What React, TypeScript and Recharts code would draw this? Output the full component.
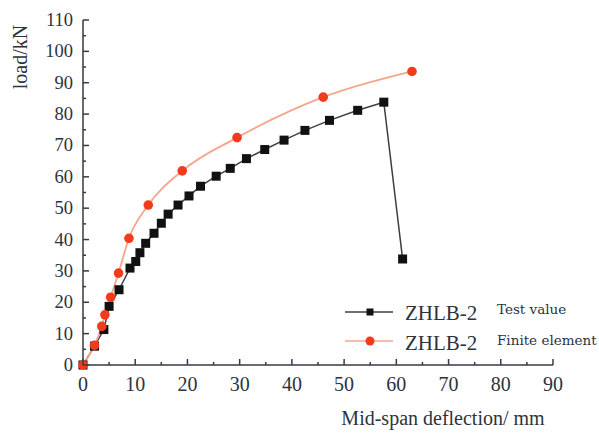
import { LineChart, Line, XAxis, YAxis, Legend, Label } from "recharts";

const testX = [0, 2.2, 4.0, 5.0, 6.9, 9.0, 10.1, 10.9, 12.0, 13.6, 15.0, 16.3, 18.2, 20.3, 22.5, 25.5, 28.2, 31.3, 34.8, 38.5, 42.5, 47.2, 52.6, 57.6, 61.2];
const testY = [0, 6, 11.3, 18.7, 24.0, 30.9, 33.0, 35.8, 38.8, 42.0, 45.2, 48.1, 51.0, 53.9, 57.0, 60.2, 62.7, 65.8, 68.7, 71.7, 74.8, 78.0, 81.2, 83.8, 33.8];
const feX = [0, 2.2, 3.6, 4.2, 5.3, 6.8, 8.8, 12.5, 19.0, 29.5, 46.0, 63.0];
const feY = [0, 6.3, 12.3, 16.0, 21.6, 29.3, 40.4, 51.0, 61.9, 72.5, 85.4, 93.6];
const xTicks = [0, 5, 10, 15, 20, 25, 30, 35, 40, 45, 50, 55, 60, 65, 70, 75, 80, 85, 90];
const yTicks = [0, 5, 10, 15, 20, 25, 30, 35, 40, 45, 50, 55, 60, 65, 70, 75, 80, 85, 90, 95, 100, 105, 110];

const testData = testX.map((x, i) => ({ x, y: testY[i] }));
const feData = feX.map((x, i) => ({ x, y: feY[i] }));

const AXIS = "#353b44";
const TEXT = "#2c333d";
const serif = "'Liberation Serif', serif";

const XTick = ({ x, y, payload }: any) => {
  const major = payload.value % 10 === 0;
  return (
    <g>
      <line x1={x} x2={x} y1={y} y2={y - (major ? 6 : 3)} stroke={AXIS} strokeWidth={1.5} />
      {major && (
        <text x={x} y={y + 26} textAnchor="middle" fontFamily={serif} fontSize={20} fill={TEXT}>
          {payload.value}
        </text>
      )}
    </g>
  );
};

const YTick = ({ x, y, payload }: any) => {
  const major = payload.value % 10 === 0;
  return (
    <g>
      <line x1={x} x2={x + (major ? 6 : 3)} y1={y} y2={y} stroke={AXIS} strokeWidth={1.5} />
      {major && (
        <text x={x - 10} y={y + 6} textAnchor="end" fontFamily={serif} fontSize={18.5} fill={TEXT}>
          {payload.value}
        </text>
      )}
    </g>
  );
};

const Square = ({ cx, cy, index }: any) => (
  <rect key={index} x={cx - 4.5} y={cy - 4.5} width={9} height={9} fill="#111" />
);

const Dot = ({ cx, cy, index }: any) => (
  <circle key={index} cx={cx} cy={cy} r={4.8} fill="#f23a1c" />
);

const LegendBox = () => (
  <svg width={260} height={70} style={{ display: "block" }}>
    <line x1={5} x2={53} y1={22} y2={22} stroke="#3a3f45" strokeWidth={1.5} />
    <rect x={26.5} y={18.5} width={7} height={7} fill="#111" />
    <text x={65} y={30} fontFamily={serif} fontSize={21} fill={TEXT}>ZHLB-2</text>
    <text x={157} y={24} fontFamily="'DejaVu Serif', serif" fontSize={13.5} fill={TEXT}>Test value</text>
    <line x1={5} x2={53} y1={51} y2={51} stroke="#f7a58a" strokeWidth={1.5} />
    <circle cx={30} cy={51} r={4.5} fill="#f23a1c" />
    <text x={65} y={60} fontFamily={serif} fontSize={21} fill={TEXT}>ZHLB-2</text>
    <text x={157} y={55} fontFamily="'DejaVu Serif', serif" fontSize={13.5} fill={TEXT}>Finite element</text>
  </svg>
);

export default function App() {
  return (
    <div style={{ position: "absolute", left: 0, top: 0, width: 599, height: 434, background: "#fff" }}>
      <LineChart width={599} height={434} margin={{ top: 20, right: 46, bottom: 0, left: 0 }}>
        <XAxis
          type="number"
          dataKey="x"
          domain={[0, 90]}
          ticks={xTicks}
          interval={0}
          tickSize={0}
          tickMargin={0}
          tickLine={false}
          tick={XTick}
          height={69}
          axisLine={{ stroke: AXIS, strokeWidth: 1.5 }}
        >
          <Label
            content={() => (
              <text x={443} y={425} textAnchor="middle" fontFamily={serif} fontSize={20} fill={TEXT}>
                Mid-span deflection/ mm
              </text>
            )}
          />
        </XAxis>
        <YAxis
          type="number"
          dataKey="y"
          domain={[0, 110]}
          ticks={yTicks}
          interval={0}
          tickSize={0}
          tickMargin={0}
          tickLine={false}
          tick={YTick}
          width={83}
          axisLine={{ stroke: AXIS, strokeWidth: 1.5 }}
        >
          <Label
            content={() => (
              <text transform="translate(27,57) rotate(-90)" textAnchor="middle" fontFamily={serif} fontSize={20} fill={TEXT}>
                load/kN
              </text>
            )}
          />
        </YAxis>
        <Legend
          content={LegendBox}
          wrapperStyle={{ position: "absolute", left: 340, top: 290, width: 260, height: 0, overflow: "visible" }}
        />
        <Line
          data={testData}
          dataKey="y"
          type="linear"
          stroke="#3a3f45"
          strokeWidth={1.5}
          dot={Square}
          activeDot={false}
          isAnimationActive={false}
        />
        <Line
          data={feData}
          dataKey="y"
          type="monotone"
          stroke="#f7a58a"
          strokeWidth={1.8}
          dot={Dot}
          activeDot={false}
          isAnimationActive={false}
        />
      </LineChart>
    </div>
  );
}
